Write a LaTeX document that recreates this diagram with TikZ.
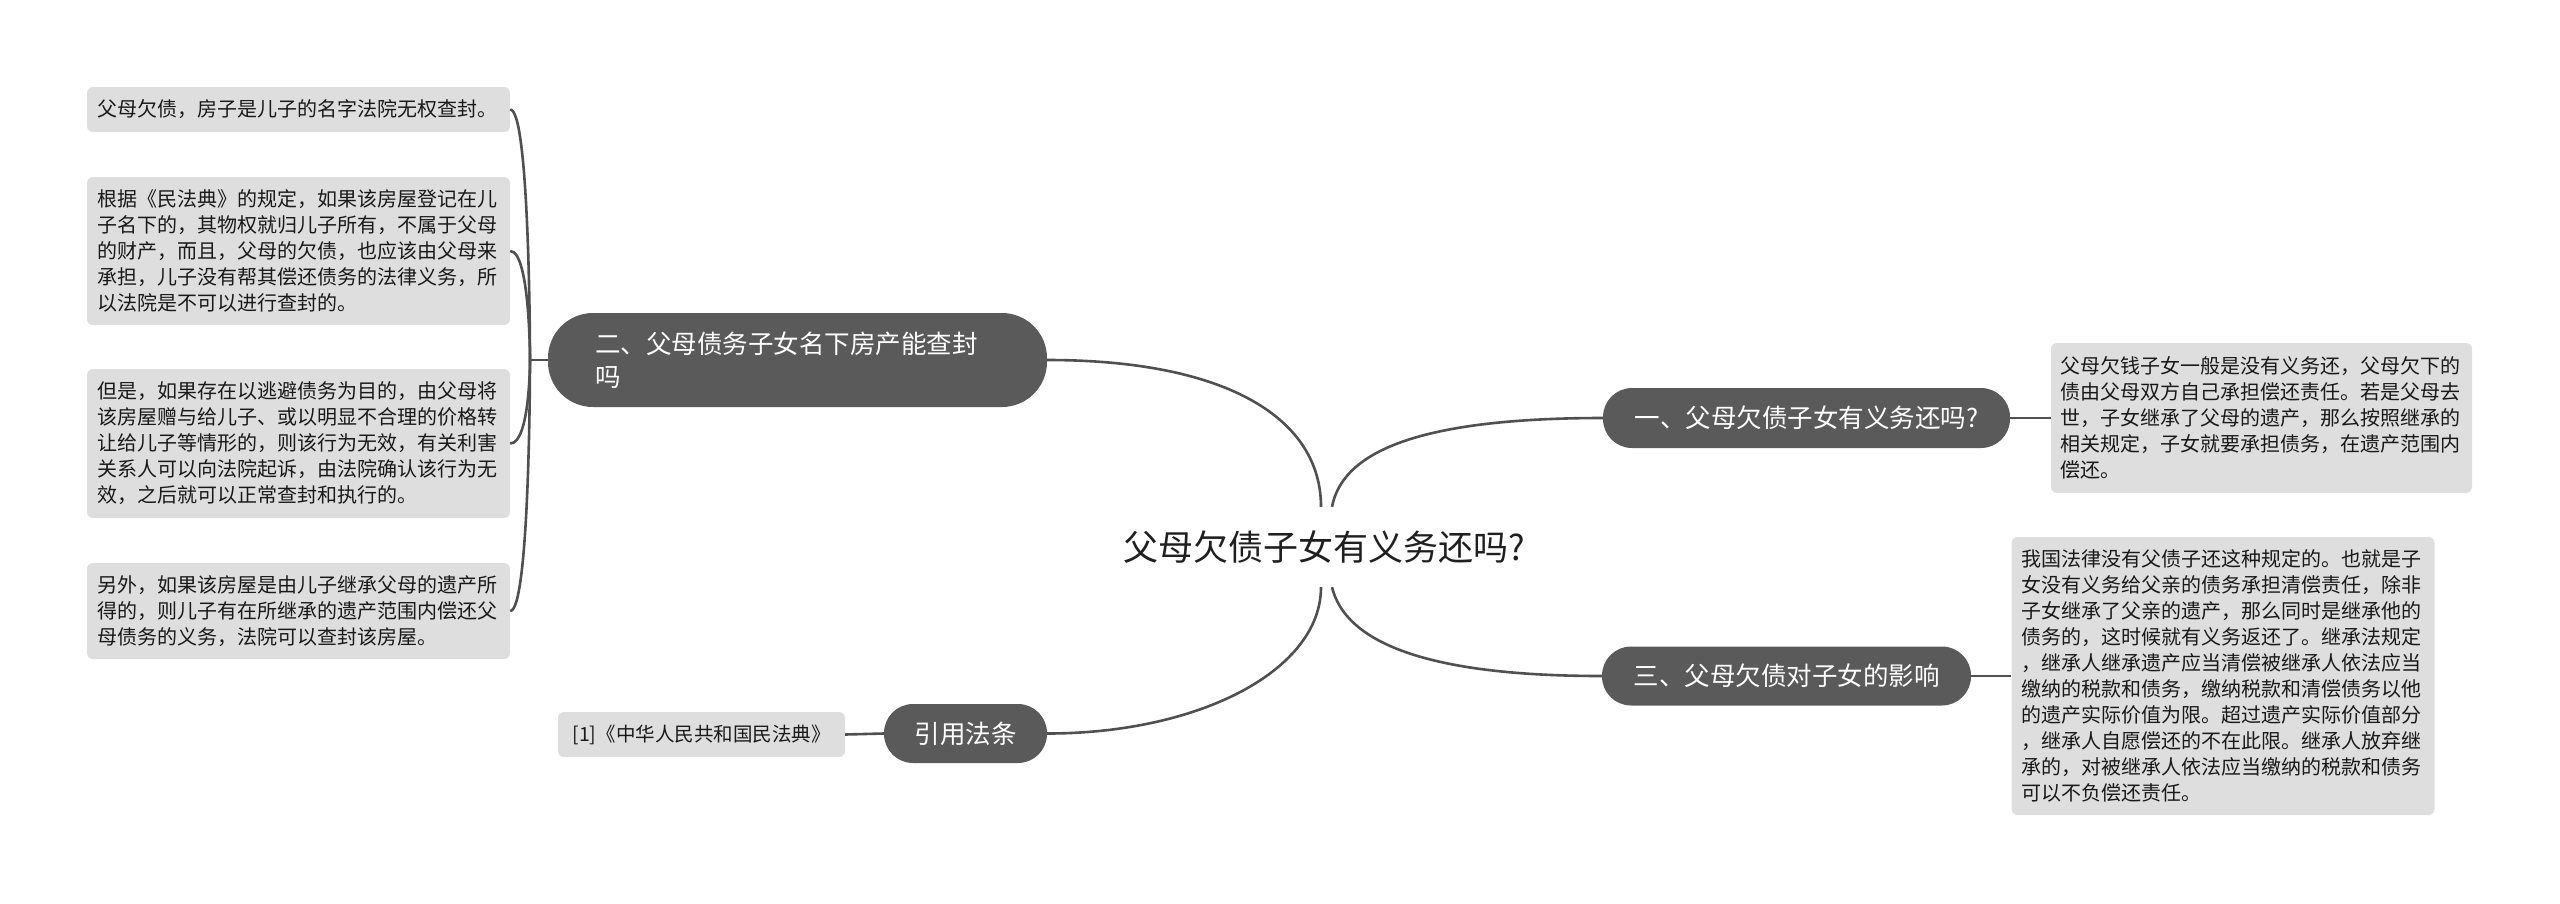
\documentclass[tikz,border=0pt]{standalone}
\usepackage{fontspec}
\setmainfont{Noto Sans CJK SC}
\definecolor{branchfill}{HTML}{5A5A5A}
\definecolor{leaffill}{HTML}{DEDEDE}
\definecolor{linkcol}{HTML}{505050}
\tikzset{
  leaf/.style={fill=leaffill, rounded corners=6pt, inner xsep=10pt, inner ysep=0pt,
    align=left, text width=403pt, font=\fontsize{20}{26}\selectfont, text=black!90},
  branchnode/.style={fill=branchfill, text=white, inner sep=0pt,
    font=\fontsize{25.5}{33}\selectfont},
  link/.style={draw=linkcol, line width=2.6pt},
}
\begin{document}
\begin{tikzpicture}[x=1pt,y=-1pt]
\useasboundingbox (0,0) rectangle (2560,903);

% centre
\node[font=\fontsize{35}{42}\selectfont, text=black!88, minimum height=80pt, inner sep=0pt] (c) at (1324,547) {父母欠债子女有义务还吗?};

% branch nodes
\node[branchnode, minimum width=499pt, minimum height=94pt, rounded corners=45pt,
      text width=405pt, align=left] (b2) at (797.5,360) {二、父母债务子女名下房产能查封\\吗};
\node[branchnode, minimum width=407pt, minimum height=60pt, rounded corners=29pt] (b1) at (1806.5,418) {一、父母欠债子女有义务还吗?};
\node[branchnode, minimum width=369pt, minimum height=59pt, rounded corners=29pt] (b3) at (1786.5,676) {三、父母欠债对子女的影响};
\node[branchnode, minimum width=163pt, minimum height=59pt, rounded corners=29pt] (bref) at (965.5,733.5) {引用法条};

% leaves left
\node[leaf, minimum height=45pt] (L1) at (298.5,109.5) {父母欠债，房子是儿子的名字法院无权查封。};
\node[leaf, minimum height=148pt] (L2) at (298.5,251) {根据《民法典》的规定，如果该房屋登记在儿\\子名下的，其物权就归儿子所有，不属于父母\\的财产，而且，父母的欠债，也应该由父母来\\承担，儿子没有帮其偿还债务的法律义务，所\\以法院是不可以进行查封的。};
\node[leaf, minimum height=149pt] (L3) at (298.5,443.5) {但是，如果存在以逃避债务为目的，由父母将\\该房屋赠与给儿子、或以明显不合理的价格转\\让给儿子等情形的，则该行为无效，有关利害\\关系人可以向法院起诉，由法院确认该行为无\\效，之后就可以正常查封和执行的。};
\node[leaf, minimum height=96pt] (L4) at (298.5,611) {另外，如果该房屋是由儿子继承父母的遗产所\\得的，则儿子有在所继承的遗产范围内偿还父\\母债务的义务，法院可以查封该房屋。};

% leaves right
\node[leaf, minimum height=150pt, inner xsep=9pt] (R1) at (2261.5,418) {父母欠钱子女一般是没有义务还，父母欠下的\\债由父母双方自己承担偿还责任。若是父母去\\世，子女继承了父母的遗产，那么按照继承的\\相关规定，子女就要承担债务，在遗产范围内\\偿还。};
\node[leaf, minimum height=278pt] (R3) at (2223,676) {我国法律没有父债子还这种规定的。也就是子\\女没有义务给父亲的债务承担清偿责任，除非\\子女继承了父亲的遗产，那么同时是继承他的\\债务的，这时候就有义务返还了。继承法规定\\，继承人继承遗产应当清偿被继承人依法应当\\缴纳的税款和债务，缴纳税款和清偿债务以他\\的遗产实际价值为限。超过遗产实际价值部分\\，继承人自愿偿还的不在此限。继承人放弃继\\承的，对被继承人依法应当缴纳的税款和债务\\可以不负偿还责任。};

% reference leaf
\node[leaf, text width=267pt, align=center, minimum height=45pt, font=\fontsize{19.5}{24}\selectfont] (Lref) at (701.5,734.5) {[1]《中华人民共和国民法典》};

% connectors from centre
\draw[link] ([xshift=-3pt]c.north) .. controls (1321,420) and (1230,360) .. (b2.east);
\draw[link] ([xshift=8pt]c.north) .. controls (1342,455) and (1410,418) .. (b1.west);
\draw[link] ([xshift=-3pt]c.south) .. controls (1321,670) and (1200,733.5) .. (bref.east);
\draw[link] ([xshift=8pt]c.south) .. controls (1345,640) and (1420,676) .. (b3.west);

% left spine
\coordinate (sp) at (530,360);
\draw[link] (b2.west) -- (sp);
\foreach \n in {L1,L2,L3,L4}{
  \draw[link] (sp) .. controls (sp) and (sp |- \n.east) .. (\n.east);
}

% stubs
\draw[link] (b1.east) -- (R1.west);
\draw[link] (b3.east) -- (R3.west);
\draw[link] (bref.west) -- (Lref.east);
\end{tikzpicture}
\end{document}
